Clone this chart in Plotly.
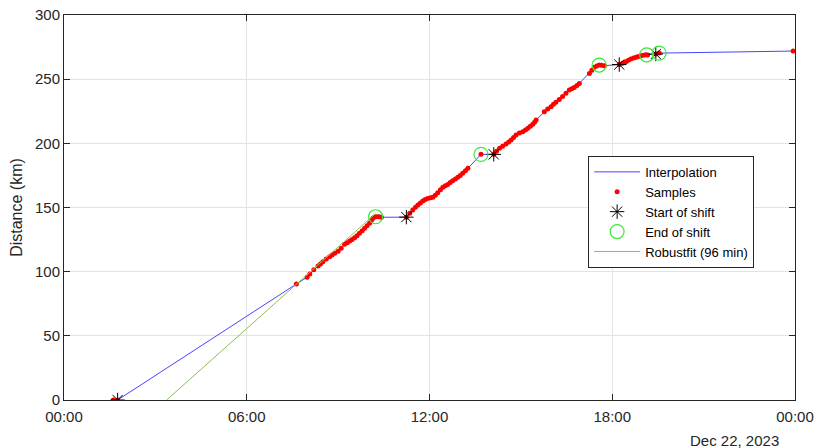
import pandas as pd
import plotly.graph_objects as go

BASE = pd.Timestamp("2023-12-21 00:00")

# Samples (hours after Dec 21 00:00, distance in km)
sample_hours = [1.62, 1.76, 7.63, 7.98, 8.07, 8.20, 8.34, 8.42, 8.50, 8.61, 8.72, 8.80, 8.89, 9.00,
                9.10, 9.21, 9.30, 9.38, 9.46, 9.54, 9.62, 9.70, 9.79, 9.87, 9.95, 10.03, 10.09,
                10.14, 10.20, 10.27, 10.35, 10.42,
                11.24, 11.35, 11.45, 11.54, 11.62, 11.70, 11.78, 11.86, 11.94, 12.03, 12.11,
                12.19, 12.27, 12.36, 12.44, 12.52, 12.60, 12.68, 12.76, 12.85, 12.93, 13.01,
                13.09, 13.18, 13.26, 13.69,
                14.11, 14.20, 14.30, 14.40, 14.51, 14.60, 14.68, 14.76, 14.84, 14.95, 15.06,
                15.15, 15.23, 15.31, 15.39, 15.45, 15.50, 15.77, 15.88, 15.99, 16.07, 16.15,
                16.26, 16.37, 16.48, 16.59, 16.67, 16.75, 16.84, 16.92, 17.25, 17.33, 17.41,
                17.49, 17.57, 17.65, 17.74,
                18.23, 18.34, 18.45, 18.53, 18.61, 18.70, 18.78, 18.86, 18.94, 19.02, 19.10,
                19.16, 19.43, 19.54, 23.94]
sample_km = [0.0, 0.0, 90.4, 95.6, 98.2, 101.5, 104.4, 106.0, 107.8, 109.8, 111.7, 113.0, 114.3, 116.0,
             118.2, 121.3, 122.6, 123.9, 125.0, 126.5, 128.0, 129.9, 131.8, 133.8, 135.8, 137.7, 139.8,
             141.6, 142.6, 142.8, 142.7, 142.4,
             142.5, 145.5, 148.0, 150.2, 152.0, 153.6, 155.0, 156.2, 157.1, 157.6, 157.9,
             159.5, 161.5, 163.8, 165.7, 167.0, 168.0, 169.4, 170.9, 172.2, 173.5, 175.0,
             176.6, 178.6, 180.5, 191.4,
             191.4, 193.8, 196.1, 197.8, 199.5, 201.0, 202.6, 204.6, 206.5, 208.0, 209.1,
             210.3, 211.7, 213.3, 214.8, 216.5, 218.2, 224.7, 226.8, 228.6, 230.4, 232.0,
             234.2, 236.4, 239.0, 241.6, 242.6, 243.6, 245.1, 246.7, 254.5, 257.0, 259.2,
             260.3, 261.0, 260.8, 260.5,
             261.4, 262.5, 263.6, 264.7, 265.7, 266.4, 267.0, 267.7, 268.3, 268.7, 269.1,
             268.9, 269.6, 270.3, 271.9]

start_hours = [1.76, 11.24, 14.11, 18.23, 19.43]
start_km = [0.0, 142.5, 191.4, 261.4, 269.6]

end_hours = [10.23, 13.69, 17.57, 19.13, 19.54]
end_km = [142.8, 191.4, 261.0, 269.0, 270.3]

fit_hours = [3.37, 10.23]
fit_km = [0.0, 145.3]

y_ticks = [0, 50, 100, 150, 200, 250, 300]
x_tick_hours = [0, 6, 12, 18, 24]
x_tick_labels = ["00:00", "06:00", "12:00", "18:00", "00:00"]


def to_time(hours):
    return [BASE + pd.Timedelta(hours=h) for h in hours]


FONT = "Liberation Sans, Arial, Helvetica, sans-serif"
AX = "#262626"

fig = go.Figure()
fig.add_trace(go.Scatter(x=to_time(sample_hours), y=sample_km, mode="lines", name="Interpolation",
                         line=dict(color="rgb(70,70,255)", width=1)))
fig.add_trace(go.Scatter(x=to_time(sample_hours), y=sample_km, mode="markers", name="Samples",
                         marker=dict(color="red", size=5, line=dict(width=0))))
fig.add_trace(go.Scatter(x=to_time(start_hours), y=start_km, mode="markers", name="Start of shift",
                         marker=dict(symbol="asterisk-open", color="black", size=12,
                                     line=dict(color="black", width=1))))
fig.add_trace(go.Scatter(x=to_time(end_hours), y=end_km, mode="markers", name="End of shift",
                         marker=dict(symbol="circle-open", color="rgb(60,230,60)", size=14,
                                     line=dict(color="rgb(60,230,60)", width=1.2))))
fig.add_trace(go.Scatter(x=to_time(fit_hours), y=fit_km, mode="lines", name="Robustfit (96 min)",
                         line=dict(color="#8cbf50", width=1)))

fig.update_layout(
    width=815, height=448, autosize=False,
    margin=dict(l=64, r=20, t=15, b=48, autoexpand=False),
    paper_bgcolor="white", plot_bgcolor="white",
    font=dict(family=FONT, size=15, color=AX),
    showlegend=True,
    legend=dict(x=0.717, y=0.634, xanchor="left", yanchor="top",
                bgcolor="white", bordercolor=AX, borderwidth=1,
                font=dict(family=FONT, size=13, color="black"),
                itemwidth=46, tracegroupgap=0),
    xaxis=dict(
        range=[BASE, BASE + pd.Timedelta(hours=24)],
        tickvals=to_time(x_tick_hours), ticktext=x_tick_labels,
        showgrid=True, gridcolor="#e3e3e3", gridwidth=1,
        showline=True, linecolor=AX, linewidth=1, mirror="ticks",
        ticks="inside", ticklen=6, tickcolor=AX, ticklabelstandoff=3,
        zeroline=False, automargin=False,
        tickfont=dict(family=FONT, size=15, color=AX),
    ),
    yaxis=dict(
        range=[0, 300], tickvals=y_ticks,
        showgrid=True, gridcolor="#e3e3e3", gridwidth=1,
        showline=True, linecolor=AX, linewidth=1, mirror="ticks",
        ticks="inside", ticklen=6, tickcolor=AX,
        zeroline=False, automargin=False,
        tickfont=dict(family=FONT, size=15, color=AX),
        title=dict(text="Distance (km)", font=dict(family=FONT, size=16, color=AX), standoff=8),
    ),
    annotations=[dict(text="Dec 22, 2023", xref="paper", yref="paper", x=0.981, y=-0.104,
                      xanchor="right", yanchor="middle", showarrow=False,
                      font=dict(family=FONT, size=15, color=AX))],
)

fig.write_html("out.html",
               config={"displayModeBar": False, "responsive": False},
               post_script="document.body.style.margin='0px';document.body.style.overflow='hidden';")
